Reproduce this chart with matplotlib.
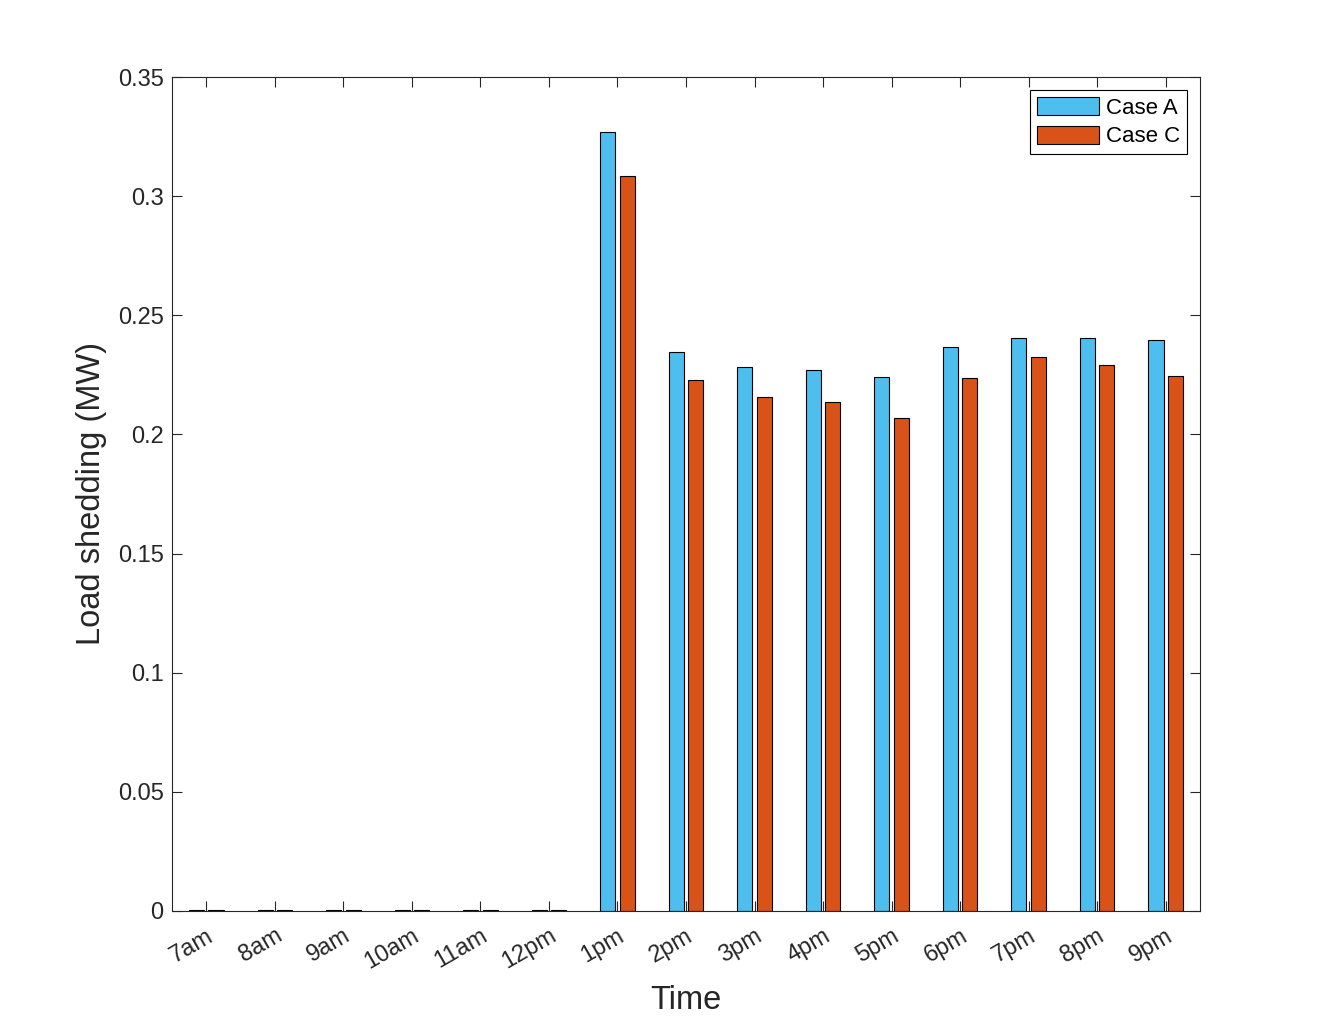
import matplotlib.pyplot as plt
import numpy as np

plt.rcParams['font.family'] = ['Liberation Sans', 'DejaVu Sans']

hours = ['7am', '8am', '9am', '10am', '11am', '12pm', '1pm', '2pm',
         '3pm', '4pm', '5pm', '6pm', '7pm', '8pm', '9pm']
# morning hours are (almost) zero
case_a = [0.0005, 0.0005, 0.0005, 0.0005, 0.0005, 0.0005, 0.3270, 0.2345,
          0.2282, 0.2270, 0.2240, 0.2366, 0.2404, 0.2404, 0.2396]
case_c = [0.0005, 0.0005, 0.0005, 0.0005, 0.0005, 0.0005, 0.3083, 0.2227,
          0.2156, 0.2135, 0.2068, 0.2235, 0.2325, 0.2291, 0.2244]

dark = '#262626'
blue = '#4DBEEE'
orange = '#D95319'

fig = plt.figure(figsize=(13.26, 10.24), dpi=100)
ax = fig.add_axes([0.1297, 0.1104, 0.7753, 0.8144])

x = np.arange(1, len(hours) + 1)
w = 0.22
off = 0.142
ax.bar(x - off, case_a, w, color=blue, edgecolor='black', linewidth=0.8,
       label='Case A')
ax.bar(x + off, case_c, w, color=orange, edgecolor='black', linewidth=0.8,
       label='Case C')

ax.set_xlim(0.5, 15.5)
ax.set_ylim(0, 0.35)
ax.set_xticks(x)
ax.set_xticklabels(hours, rotation=30, ha='right', rotation_mode='anchor')
yt = np.arange(0, 0.36, 0.05)
ax.set_yticks(yt)
ax.set_yticklabels(['%g' % round(v, 2) for v in yt])

ax.tick_params(direction='in', length=7, width=0.8, colors=dark,
               labelsize=17, top=True, right=True, pad=6)
ax.tick_params(axis='x', pad=10)
for s in ax.spines.values():
    s.set_color(dark)
    s.set_linewidth(0.8)

ax.set_xlabel('Time', fontsize=23.5, color=dark, labelpad=8)
ax.set_ylabel('Load shedding (MW)', fontsize=23.5, color=dark, labelpad=8)

leg = ax.legend(loc='upper right', fontsize=16, fancybox=False,
                edgecolor='black', framealpha=1, handlelength=2.8,
                handleheight=0.9, borderaxespad=0.6, borderpad=0.3,
                labelspacing=0.3, handletextpad=0.3)
leg.get_frame().set_linewidth(0.8)

fig.savefig('out.png', dpi=100)
